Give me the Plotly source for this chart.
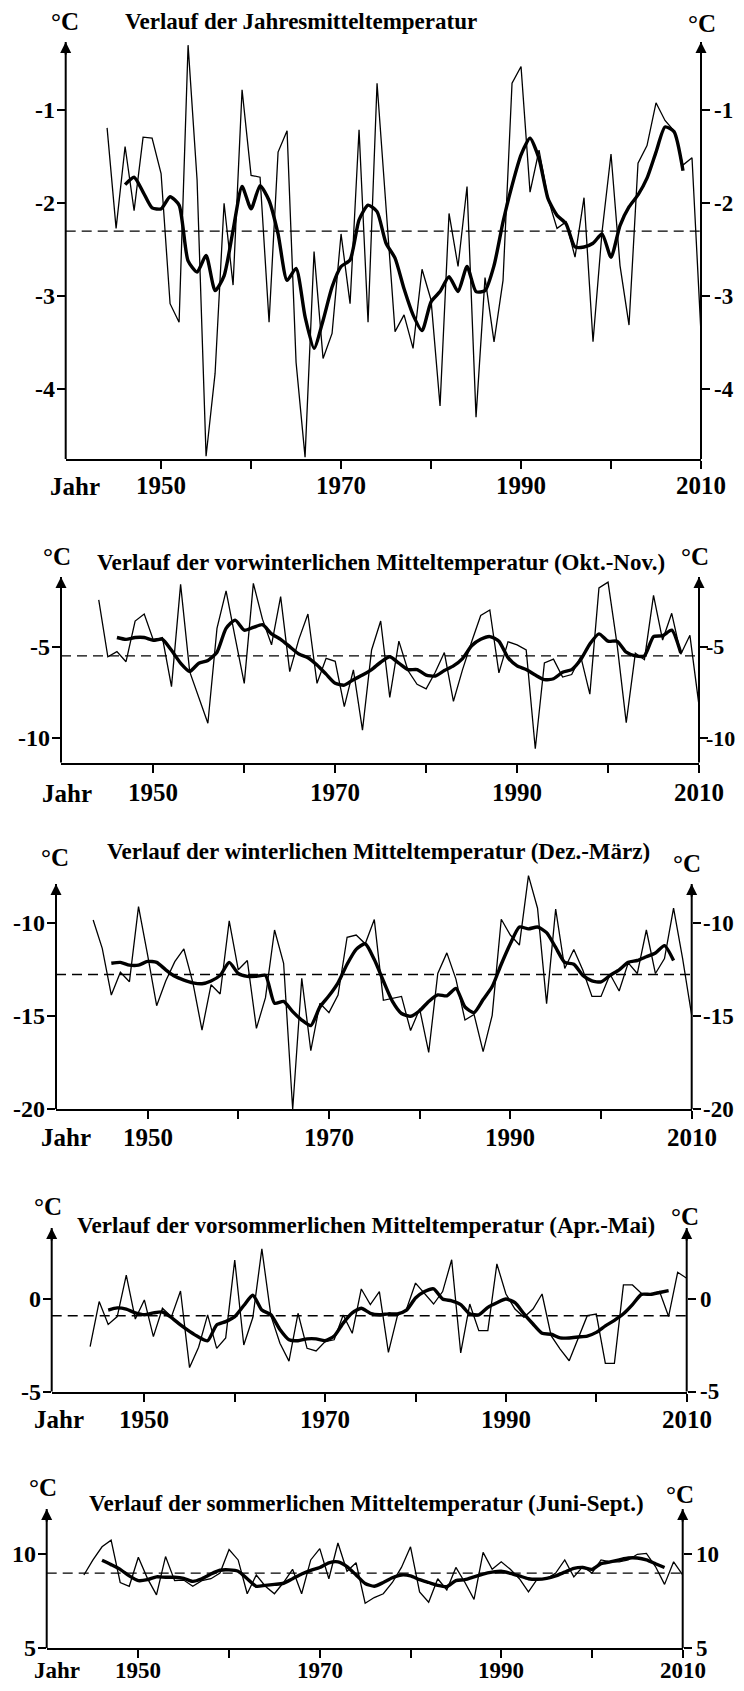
import plotly.graph_objects as go

YEARS = list(range(1944, 2011))
SMOOTH_YEARS = list(range(1946, 2009))
X_TICKS = [1950, 1960, 1970, 1980, 1990, 2000, 2010]
X_LABELS = [1950, 1970, 1990, 2010]

# Jahresmitteltemperatur
jahr_werte = [-1.19, -2.27, -1.39, -2.08, -1.29, -1.30, -1.68, -3.08, -3.28, -0.30,
              -1.75, -4.72, -3.83, -2.00, -2.88, -0.78, -1.70, -1.72, -3.28, -1.45,
              -1.22, -3.71, -4.73, -2.52, -3.67, -3.40, -2.33, -3.08, -1.21, -3.28,
              -0.71, -2.10, -3.38, -3.20, -3.56, -2.71, -3.04, -4.18, -2.11, -2.68,
              -1.82, -4.30, -2.80, -3.49, -2.83, -0.71, -0.53, -1.88, -1.43, -1.95,
              -2.27, -2.20, -2.58, -1.94, -3.49, -2.31, -1.47, -2.67, -3.31, -1.57,
              -1.38, -0.92, -1.11, -1.22, -1.59, -1.51, -3.40]
jahr_glatt = [-1.80, -1.72, -1.88, -2.05, -2.06, -1.93, -2.02, -2.62, -2.74, -2.56,
              -2.94, -2.78, -2.29, -1.82, -2.06, -1.81, -1.97, -2.33, -2.83, -2.70,
              -3.22, -3.56, -3.26, -2.90, -2.68, -2.61, -2.18, -2.02, -2.09, -2.43,
              -2.59, -2.92, -3.20, -3.37, -3.06, -2.95, -2.79, -2.95, -2.68, -2.95,
              -2.94, -2.67, -2.20, -1.81, -1.48, -1.30, -1.52, -1.95, -2.13, -2.22,
              -2.47, -2.47, -2.43, -2.33, -2.58, -2.24, -2.04, -1.91, -1.73, -1.45,
              -1.18, -1.23, -1.65]

# vorwinterlich (Okt.-Nov.)
vorwinter_werte = [-2.45, -5.55, -5.27, -5.82, -3.60, -3.22, -4.64, -4.50, -7.18, -1.60,
                   -6.36, -7.80, -9.18, -4.00, -1.96, -4.50, -7.00, -1.55, -3.50, -4.90,
                   -2.27, -6.36, -4.60, -3.22, -7.00, -5.64, -5.80, -8.27, -6.27, -9.55,
                   -5.18, -3.60, -7.77, -4.70, -6.30, -7.05, -7.30, -6.40, -5.32, -7.98,
                   -6.25, -4.73, -3.30, -3.00, -6.43, -4.73, -4.90, -5.18, -10.57, -5.89,
                   -5.68, -6.66, -6.52, -5.54, -7.59, -1.79, -1.48, -4.90, -9.14, -5.36,
                   -5.71, -2.20, -4.64, -3.18, -5.41, -4.38, -8.20]
vorwinter_glatt = [-4.50, -4.60, -4.50, -4.50, -4.65, -4.60, -5.20, -5.90, -6.35, -5.90,
                   -5.75, -5.30, -4.00, -3.55, -4.10, -3.95, -3.80, -4.30, -4.60, -5.00,
                   -5.40, -5.60, -6.00, -6.50, -7.00, -7.10, -6.80, -6.55, -6.25, -5.85,
                   -5.55, -5.90, -6.25, -6.25, -6.55, -6.60, -6.30, -6.05, -5.65, -4.95,
                   -4.60, -4.45, -4.70, -5.60, -6.05, -6.25, -6.55, -6.80, -6.75, -6.40,
                   -6.25, -5.70, -4.85, -4.30, -4.70, -4.70, -5.30, -5.50, -5.50, -4.45,
                   -4.40, -4.10, -5.35]

# winterlich (Dez.-Maerz)
winter_werte = [-9.82, -11.35, -13.86, -12.63, -13.14, -9.10, -11.70, -14.43, -13.10, -12.06,
                -11.38, -13.20, -15.74, -13.30, -13.80, -9.87, -12.50, -12.00, -15.65, -14.00,
                -10.36, -12.15, -20.00, -12.96, -16.85, -14.30, -14.80, -13.86, -10.75, -10.63,
                -11.10, -9.80, -14.14, -14.05, -13.93, -15.77, -14.60, -16.94, -12.70, -11.59,
                -13.00, -15.20, -14.90, -16.90, -14.95, -9.78, -10.63, -11.17, -7.44, -9.19,
                -14.32, -9.24, -12.43, -11.41, -12.52, -13.93, -13.93, -12.74, -13.64, -12.13,
                -12.70, -10.36, -12.70, -11.90, -9.19, -11.90, -14.95]
winter_glatt = [-12.15, -12.10, -12.25, -12.25, -12.05, -12.10, -12.50, -12.85, -13.05, -13.20,
                -13.25, -13.10, -12.80, -12.10, -12.70, -12.85, -12.85, -12.80, -14.30, -14.20,
                -14.75, -15.20, -15.50, -14.50, -13.90, -13.20, -12.20, -11.40, -11.10, -11.95,
                -13.10, -14.20, -14.85, -15.00, -14.70, -14.20, -13.85, -13.90, -13.50, -14.50,
                -14.80, -14.10, -13.40, -12.20, -11.10, -10.20, -10.30, -10.20, -10.50, -11.30,
                -12.10, -12.20, -12.80, -13.10, -13.15, -12.80, -12.50, -12.10, -12.00, -11.80,
                -11.60, -11.20, -12.00]

# vorsommerlich (Apr.-Mai)
vorsommer_werte = [-2.57, -0.14, -1.37, -0.95, 1.29, -1.08, -0.05, -2.03, -0.50, -0.95,
                   0.43, -3.70, -2.60, -0.86, -2.66, -2.10, 2.10, -2.48, -1.00, 2.70,
                   -0.90, -2.39, -3.35, -0.77, -2.66, -2.80, -2.30, -2.20, -0.86, -1.85,
                   0.54, -0.30, 0.40, -2.88, -0.90, -0.55, 0.86, 0.30, -0.27, 0.40,
                   2.12, -2.91, -0.27, -1.71, -1.71, 1.89, 0.27, -0.54, -0.99, -0.54,
                   0.27, -1.98, -2.70, -3.33, -2.16, -0.90, -0.81, -3.47, -3.47, 0.76,
                   0.76, 0.30, 0.25, 0.40, -0.94, 1.44, 1.12]
vorsommer_glatt = [-0.60, -0.48, -0.55, -0.75, -0.85, -0.75, -0.70, -1.00, -1.40, -1.75,
                   -2.05, -2.25, -1.40, -1.22, -0.95, -0.35, 0.20, -0.60, -0.85, -1.65,
                   -2.20, -2.25, -2.15, -2.15, -2.25, -2.00, -1.30, -0.75, -0.50, -0.77,
                   -0.85, -0.80, -0.80, -0.60, 0.05, 0.40, 0.55, 0.00, -0.10, -0.30,
                   -0.80, -0.85, -0.45, -0.20, 0.00, -0.20, -0.80, -1.35, -1.85, -1.90,
                   -2.10, -2.10, -2.05, -2.00, -1.80, -1.45, -1.15, -0.80, -0.30, 0.25,
                   0.25, 0.35, 0.45]

# sommerlich (Juni-Sept.)
sommer_werte = [8.90, 9.70, 10.40, 10.75, 8.50, 8.30, 9.84, 8.72, 7.84, 9.88,
                8.60, 8.63, 8.30, 8.60, 8.70, 9.00, 10.25, 9.70, 7.90, 8.90,
                8.30, 7.90, 8.50, 9.20, 7.90, 9.70, 10.30, 8.70, 10.60, 9.10,
                9.55, 7.40, 7.70, 7.90, 8.50, 9.30, 10.40, 8.00, 7.45, 8.70,
                8.10, 9.30, 8.50, 7.60, 10.10, 9.20, 9.60, 9.20, 8.70, 8.00,
                8.70, 8.70, 9.00, 9.70, 8.80, 9.35, 9.00, 9.70, 9.60, 9.60,
                9.70, 10.00, 10.05, 9.35, 8.40, 9.60, 8.90]
sommer_glatt = [9.68, 9.45, 9.20, 8.85, 8.60, 8.65, 8.80, 8.78, 8.78, 8.72,
                8.56, 8.70, 8.95, 9.15, 9.17, 9.10, 8.70, 8.30, 8.35, 8.40,
                8.46, 8.70, 8.95, 9.15, 9.30, 9.55, 9.60, 9.35, 8.90, 8.45,
                8.30, 8.50, 8.75, 8.90, 8.85, 8.65, 8.50, 8.35, 8.28, 8.60,
                8.65, 8.80, 8.95, 9.05, 9.10, 8.99, 8.85, 8.70, 8.67, 8.72,
                8.85, 9.05, 9.25, 9.30, 9.20, 9.50, 9.60, 9.70, 9.80, 9.80,
                9.70, 9.50, 9.30]

mittel = [-2.30, -5.50, -12.75, -0.90, 9.00]
titel = ["Verlauf der Jahresmitteltemperatur",
         "Verlauf der vorwinterlichen Mitteltemperatur (Okt.-Nov.)",
         "Verlauf der winterlichen Mitteltemperatur (Dez.-März)",
         "Verlauf der vorsommerlichen Mitteltemperatur (Apr.-Mai)",
         "Verlauf der sommerlichen Mitteltemperatur (Juni-Sept.)"]
y_ticks = [[-1, -2, -3, -4], [-5, -10], [-10, -15, -20], [0, -5], [10, 5]]
werte = [jahr_werte, vorwinter_werte, winter_werte, vorsommer_werte, sommer_werte]
glatt = [jahr_glatt, vorwinter_glatt, winter_glatt, vorsommer_glatt, sommer_glatt]

# the page body has an 8px margin, so the figure is drawn 8px smaller
OFF = 8
W, H = 744 - OFF, 1691 - 2 * OFF
FONT = "Liberation Serif"


def px(x, y):
    return (x - OFF) / W, 1 - (y - OFF) / H


# pixel geometry of each panel on the page (scanned sheet, slightly skewed)
geo = [
    dict(left=65.7, right=701, top=40, bottom=459, arrow=42, ybot=-4.75, ppu=93.0, x0=1939.4,
         title=(123, 21), degl=(65, 22), degr=(702, 24), jahr=(75, 487), xlab=27, xfont=25,
         rshift=11, rfont=23),
    dict(left=61, right=699, top=577, bottom=762.7, arrow=577, ybot=-11.33, ppu=18.33, x0=1939.85,
         title=(95, 562), degl=(57, 556), degr=(695, 556), jahr=(67, 793), xlab=30, xfont=25,
         rshift=5, rfont=22),
    dict(left=56, right=691.7, top=872, bottom=1109.3, arrow=884, ybot=-20.0, ppu=18.6, x0=1939.9,
         title=(105, 851), degl=(55, 857), degr=(687, 863), jahr=(66, 1137), xlab=28, xfont=25,
         rshift=9, rfont=23),
    dict(left=51.7, right=686.7, top=1228, bottom=1391.7, arrow=1228, ybot=-5.0, ppu=18.54, x0=1939.75,
         title=(75, 1225), degl=(48, 1206), degr=(685, 1216), jahr=(59, 1419), xlab=28, xfont=25,
         rshift=11, rfont=23),
    dict(left=46.7, right=682.7, top=1509, bottom=1648.3, arrow=1509, ybot=5.0, ppu=18.8, x0=1939.9,
         title=(87, 1503), degl=(43, 1487), degr=(680, 1494), jahr=(57, 1670), xlab=22, xfont=23,
         rshift=11, rfont=23),
]

fig = go.Figure()
layout = dict(width=W, height=H, margin=dict(l=0, r=0, t=0, b=0),
              paper_bgcolor="white", plot_bgcolor="white", showlegend=False)
shapes = []
annotations = []


def bold(size):
    return dict(family=FONT, size=size, color="black", weight="bold")


for i, g in enumerate(geo):
    n = i + 1
    sfx = "" if n == 1 else str(n)
    xa, ya, yr = f"x{sfx}", f"y{sfx}", f"y{n + 5}"
    ytop = g["ybot"] + (g["bottom"] - g["top"]) / g["ppu"]
    yarrow = g["ybot"] + (g["bottom"] - g["arrow"]) / g["ppu"]
    xl, yb = px(g["left"], g["bottom"])
    xr, yt = px(g["right"], g["top"])
    tv = y_ticks[i]

    layout[f"xaxis{sfx}"] = dict(domain=[xl, xr], range=[g["x0"], 2010], anchor=ya,
                                 showline=True, linewidth=2, linecolor="black",
                                 ticks="outside", ticklen=8, tickwidth=2, tickcolor="black",
                                 tickvals=X_TICKS, showticklabels=False, showgrid=False,
                                 zeroline=False, automargin=False)
    ycommon = dict(range=[g["ybot"], ytop], showline=False, ticks="outside", ticklen=8,
                   tickwidth=2, tickcolor="black", tickvals=tv, showticklabels=False,
                   showgrid=False, zeroline=False, automargin=False)
    layout[f"yaxis{sfx}"] = dict(domain=[yb, yt], anchor=xa, **ycommon)
    layout[f"yaxis{n + 5}"] = dict(overlaying=ya, side="right", anchor=xa, **ycommon)

    fig.add_trace(go.Scatter(x=YEARS, y=werte[i], xaxis=xa, yaxis=ya, mode="lines",
                             line=dict(color="black", width=1.3), hoverinfo="skip"))
    fig.add_trace(go.Scatter(x=SMOOTH_YEARS, y=glatt[i], xaxis=xa, yaxis=ya, mode="lines",
                             line=dict(color="black", width=3.4, shape="spline", smoothing=0.6),
                             hoverinfo="skip"))
    # keeps the right-hand axis (its tick marks) alive
    fig.add_trace(go.Scatter(x=[YEARS[0]], y=[mittel[i]], xaxis=xa, yaxis=yr, mode="markers",
                             marker=dict(opacity=0), hoverinfo="skip"))

    shapes.append(dict(type="line", xref=f"{xa} domain", x0=0, x1=1, yref=ya,
                       y0=mittel[i], y1=mittel[i],
                       line=dict(color="black", width=1.4, dash="10px,6px")))
    for side in (0, 1):
        shapes.append(dict(type="line", xref=f"{xa} domain", x0=side, x1=side, yref=ya,
                           y0=g["ybot"], y1=yarrow, line=dict(color="black", width=2)))
        annotations.append(dict(xref=f"{xa} domain", x=side, yref=ya, y=yarrow, text="",
                                showarrow=True, arrowhead=2, arrowsize=1.1, arrowwidth=2,
                                arrowcolor="black", ax=0, ay=14, axref="pixel", ayref="pixel"))

    # tick labels on both temperature axes
    for v in tv:
        annotations.append(dict(xref=f"{xa} domain", x=0, yref=ya, y=v, text=f"{v:g}",
                                xanchor="right", yanchor="middle", xshift=-9,
                                showarrow=False, font=bold(24)))
        annotations.append(dict(xref=f"{xa} domain", x=1, yref=ya, y=v, text=f"{v:g}",
                                xanchor="left", yanchor="middle", xshift=g["rshift"],
                                showarrow=False, font=bold(g["rfont"])))
    # year labels
    for yv in X_LABELS:
        annotations.append(dict(xref=xa, x=yv, yref=f"{ya} domain", y=0, text=str(yv),
                                xanchor="center", yanchor="middle", yshift=-g["xlab"],
                                showarrow=False, font=bold(g["xfont"])))

    tx, ty = px(*g["title"])
    annotations.append(dict(xref="paper", yref="paper", x=tx, y=ty,
                            xanchor="left", yanchor="middle", text=titel[i],
                            showarrow=False, font=bold(23)))
    for key in ("degl", "degr"):
        cx, cy = px(*g[key])
        annotations.append(dict(xref="paper", yref="paper", x=cx, y=cy,
                                xanchor="center", yanchor="middle", text="°C",
                                showarrow=False, font=bold(25)))
    jx, jy = px(*g["jahr"])
    annotations.append(dict(xref="paper", yref="paper", x=jx, y=jy,
                            xanchor="center", yanchor="middle", text="Jahr",
                            showarrow=False, font=bold(g["xfont"])))

layout["shapes"] = shapes
layout["annotations"] = annotations
fig.update_layout(**layout)

fig.write_html("out.html")
